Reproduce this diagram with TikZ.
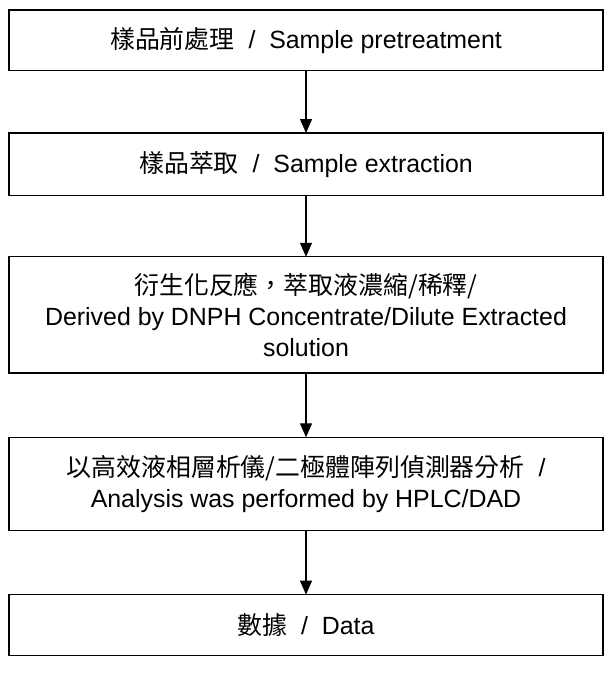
\documentclass[tikz,border=0pt]{standalone}
\usepackage{fontspec}
\setmainfont{Liberation Sans}
\newfontfamily\cjk{Noto Sans CJK TC}
\usetikzlibrary{positioning,arrows.meta}

\begin{document}
\begin{tikzpicture}[x=1bp,y=1bp,
  stepbox/.style={draw,line width=1.2bp,minimum width=594bp,outer sep=0pt,
    align=center,font=\fontsize{25}{31}\selectfont},
  flow/.style={line width=1.2bp,-{Triangle[width=12bp,length=14bp]}}]
 \useasboundingbox (0,0) rectangle (614,-680);
 \node[stepbox,minimum height=60.5bp] (pretreat) at (306,-40.25)
   {{\cjk 樣品前處理} \ / \ Sample pretreatment}; %前処理
 \node[stepbox,minimum height=62.4bp,below=62.5bp of pretreat] (extract)
   {{\cjk 樣品萃取} \ / \ Sample extraction}; %萃取
 \node[stepbox,minimum height=116.2bp,below=61.4bp of extract] (derive)
   {{\cjk 衍生化反應，萃取液濃縮/稀釋/}\\
    Derived by DNPH Concentrate/Dilute Extracted\\solution}; %衍生化
 \node[stepbox,minimum height=93bp,below=64.3bp of derive] (hplc)
   {{\cjk 以高效液相層析儀/二極體陣列偵測器分析} \ /\\
    Analysis was performed by HPLC/DAD}; %分析
 \node[stepbox,minimum height=60.5bp,below=64.3bp of hplc] (data)
   {{\cjk 數據} \ / \ Data}; %数据

 \foreach \a/\b in {pretreat/extract,extract/derive,derive/hplc,hplc/data}
   \draw[flow] (\a)--(\b);
\end{tikzpicture}
\end{document}
